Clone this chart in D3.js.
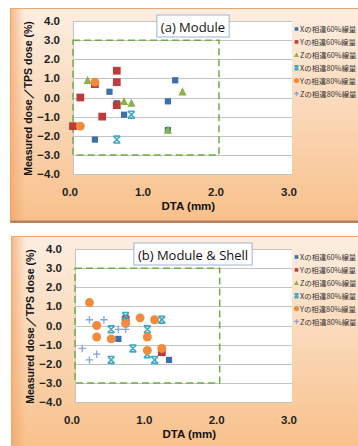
<!DOCTYPE html>
<html>
<head>
<meta charset="utf-8">
<script src="https://cdn.jsdelivr.net/npm/d3@7"></script>
<style>
  html, body { margin: 0; padding: 0; background: #fff; }
  svg { display: block; }
</style>
</head>
<body>
<div id="chart"></div>
<script>
// ticks & legend
const xTicks = [0, 1, 2, 3];
const yTicks = [4, 3, 2, 1, 0, -1, -2, -3, -4];
const seriesNames = ['Xの相違60%線量', 'Yの相違60%線量', 'Zの相違60%線量',
  'Xの相違80%線量', 'Yの相違80%線量', 'Zの相違80%線量'];

// (a) Module  [DTA, dose diff]
const aX60 = [[0.3, -2.2], [0.5, 0.3], [0.6, -0.3], [0.7, -0.9], [1.3, -0.2], [1.3, -1.7], [1.4, 0.9]];
const aY60 = [[0.0, -1.5], [0.1, 0.0], [0.3, 0.7], [0.4, -1.0], [0.6, 1.4], [0.6, 0.8], [0.6, -0.4]];
const aZ60 = [[0.2, 0.9], [0.7, -0.2], [0.8, -0.3], [1.3, -1.7], [1.5, 0.3]];
const aX80 = [[0.6, -2.2], [0.8, -0.9]];
const aY80 = [[0.1, -1.5], [0.3, 0.8]];
const aZ80 = [];

// (b) Module & Shell
const bX60 = [[0.6, -0.7], [0.7, 0.4], [1.3, -1.8]];
const bY60 = [[0.7, 0.3], [1.2, -1.4]];
const bZ60 = [];
const bX80 = [[0.5, -0.2], [0.5, -1.8], [0.7, 0.5], [0.8, -1.2], [1.0, -0.2], [1.0, -1.5], [1.1, -1.8], [1.2, 0.3]];
const bY80 = [[0.2, 1.2], [0.3, 0.0], [0.3, -0.6], [0.5, -0.7], [0.7, 0.1], [0.9, 0.4], [1.0, -0.6], [1.0, -1.3], [1.1, 0.3], [1.2, -1.2]];
const bZ80 = [[0.1, -1.2], [0.2, 0.3], [0.2, -1.8], [0.3, -1.5], [0.4, 0.3], [0.6, -0.2], [0.7, -0.2]];

const colors = ['#3a6fb0', '#be3b3b', '#8db04c', '#3fa9c4', '#f28a3c', '#8aa4d8'];
const shapes = ['square', 'bigsquare', 'triangle', 'star', 'circle', 'plus'];

const width = 358, height = 446;
const svg = d3.select('#chart').append('svg')
  .attr('width', width).attr('height', height);

const defs = svg.append('defs');
const bg = defs.append('linearGradient').attr('id', 'bg')
  .attr('x1', 0).attr('y1', 0).attr('x2', 0).attr('y2', 1);
bg.append('stop').attr('offset', '0%').attr('stop-color', '#fdeee1');
bg.append('stop').attr('offset', '100%').attr('stop-color', '#f8c08a');
const side = defs.append('linearGradient').attr('id', 'side')
  .attr('x1', 0).attr('y1', 0).attr('x2', 1).attr('y2', 0);
side.append('stop').attr('offset', '0%').attr('stop-color', '#f3a468').attr('stop-opacity', 0.7);
side.append('stop').attr('offset', '100%').attr('stop-color', '#f3a468').attr('stop-opacity', 0);

function marker(g, shape, color, x, y, s) {
  if (shape === 'square' || shape === 'bigsquare') {
    const w = shape === 'square' ? s : s * 1.25;
    g.append('rect').attr('x', x - w / 2).attr('y', y - w / 2)
      .attr('width', w).attr('height', w).attr('fill', color);
  } else if (shape === 'triangle') {
    const w = s * 1.3;
    g.append('path').attr('fill', color)
      .attr('d', `M${x},${y - w * 0.55}L${x + w / 2},${y + w * 0.45}L${x - w / 2},${y + w * 0.45}Z`);
  } else if (shape === 'circle') {
    g.append('circle').attr('cx', x).attr('cy', y).attr('r', s * 0.72).attr('fill', color);
  } else if (shape === 'star') {
    const h = s * 0.55;
    g.append('path').attr('stroke', color).attr('stroke-width', 1.6).attr('fill', 'none')
      .attr('d', `M${x - h},${y - h}L${x + h},${y + h}M${x + h},${y - h}L${x - h},${y + h}` +
        `M${x - h},${y - h}L${x + h},${y - h}M${x - h},${y + h}L${x + h},${y + h}`);
  } else if (shape === 'plus') {
    const h = s * 0.6;
    g.append('path').attr('stroke', color).attr('stroke-width', 1.3).attr('fill', 'none')
      .attr('d', `M${x - h},${y}L${x + h},${y}M${x},${y - h}L${x},${y + h}`);
  }
}

function drawPanel(p) {
  const g = svg.append('g');
  // panel background
  g.append('rect').attr('x', p.fx).attr('y', p.fy).attr('width', width - p.fx + 2)
    .attr('height', p.fh).attr('fill', 'url(#bg)').attr('stroke', '#f2a66a').attr('stroke-width', 1);
  g.append('rect').attr('x', p.fx + 0.5).attr('y', p.fy + 0.5).attr('width', 14)
    .attr('height', p.fh - 1).attr('fill', 'url(#side)');
  g.append('rect').attr('x', p.fx).attr('y', p.fy + p.fh - 2).attr('width', width - p.fx)
    .attr('height', 2.5).attr('fill', '#b9825d');

  const x = d3.scaleLinear().domain([0, 3]).range([p.left, p.right]);
  const y = d3.scaleLinear().domain([-4, 4]).range([p.bottom, p.top]);

  g.append('rect').attr('x', p.left).attr('y', p.top)
    .attr('width', p.right - p.left).attr('height', p.bottom - p.top).attr('fill', '#fff');

  // gridlines
  g.append('g').selectAll('line').data(yTicks).join('line')
    .attr('x1', p.left).attr('x2', p.right)
    .attr('y1', d => Math.round(y(d)) + 0.5).attr('y2', d => Math.round(y(d)) + 0.5)
    .attr('stroke', '#c4c4c4').attr('stroke-width', 1);
  g.append('line').attr('x1', p.left + 0.5).attr('x2', p.left + 0.5)
    .attr('y1', p.top).attr('y2', p.bottom).attr('stroke', '#c4c4c4');

  // tick labels
  g.append('g').selectAll('text').data(yTicks).join('text')
    .attr('x', p.left - 13).attr('y', d => y(d) + 4)
    .attr('text-anchor', 'end')
    .attr('font-family', 'Liberation Sans, Arial, sans-serif')
    .attr('font-size', 11.5).attr('font-weight', 'bold').attr('fill', '#222')
    .text(d => d3.format('.1f')(d));
  g.append('g').selectAll('text').data(xTicks).join('text')
    .attr('x', d => x(d) - 3).attr('y', p.bottom + 22)
    .attr('text-anchor', 'middle')
    .attr('font-family', 'Liberation Sans, Arial, sans-serif')
    .attr('font-size', 11.5).attr('font-weight', 'bold').attr('fill', '#222')
    .text(d => d3.format('.1f')(d));

  // axis titles
  g.append('text')
    .attr('transform', `translate(${p.left - 41},${(p.top + p.bottom) / 2 + 1}) rotate(-90)`)
    .attr('text-anchor', 'middle')
    .attr('font-family', 'Liberation Sans, Arial, sans-serif')
    .attr('font-size', 10.5).attr('font-weight', 'bold').attr('fill', '#111')
    .text('Measured dose／TPS dose (%)');
  g.append('text')
    .attr('x', x(1.58)).attr('y', p.bottom + 36)
    .attr('text-anchor', 'middle')
    .attr('font-family', 'Liberation Sans, Arial, sans-serif')
    .attr('font-size', 11.5).attr('font-weight', 'bold').attr('fill', '#111')
    .text('DTA  (mm)');

  // tolerance box
  g.append('rect').attr('x', x(0)).attr('y', y(3))
    .attr('width', x(2) - x(0)).attr('height', y(-3) - y(3))
    .attr('fill', 'none').attr('stroke', '#70ad47').attr('stroke-width', 1.5)
    .attr('stroke-dasharray', '7,4');

  // points
  const pts = g.append('g');
  p.series.forEach((data, i) => {
    data.forEach(d => marker(pts, shapes[i], colors[i], x(d[0]), y(d[1]), 6.2));
  });

  // title box
  const t = g.append('g');
  const tt = t.append('text')
    .attr('x', p.titleX).attr('y', p.top + 10.5)
    .attr('text-anchor', 'middle')
    .attr('font-family', 'Open Sans, sans-serif')
    .attr('font-size', 13).attr('fill', '#111')
    .text(p.title);
  const bb = tt.node().getBBox();
  t.insert('rect', 'text').attr('x', bb.x - 4).attr('y', p.top - 6)
    .attr('width', bb.width + 8).attr('height', 22)
    .attr('fill', '#fff').attr('stroke', '#9db4d6').attr('stroke-width', 1);

  // legend
  const lg = g.append('g');
  seriesNames.forEach((name, i) => {
    const ly = p.top + 8 + i * 12.9;
    const shp = shapes[i] === 'bigsquare' ? 'square' : shapes[i];
    marker(lg, shp, colors[i], p.right + 4.5, ly, 3.6);
    lg.append('text').attr('x', p.right + 8).attr('y', ly + 3)
      .attr('font-family', 'Noto Sans CJK JP, sans-serif')
      .attr('font-size', 7.4).attr('fill', '#333')
      .text(name);
  });
}

drawPanel({
  fx: 10.5, fy: 8.5, fh: 214,
  left: 73, right: 292, top: 21, bottom: 174,
  title: '(a) Module', titleX: 193,
  series: [aX60, aY60, aZ60, aX80, aY80, aZ80]
});
drawPanel({
  fx: 11.5, fy: 236.5, fh: 214,
  left: 75, right: 292, top: 249, bottom: 402,
  title: '(b) Module & Shell', titleX: 193,
  series: [bX60, bY60, bZ60, bX80, bY80, bZ80]
});
</script>
</body>
</html>
